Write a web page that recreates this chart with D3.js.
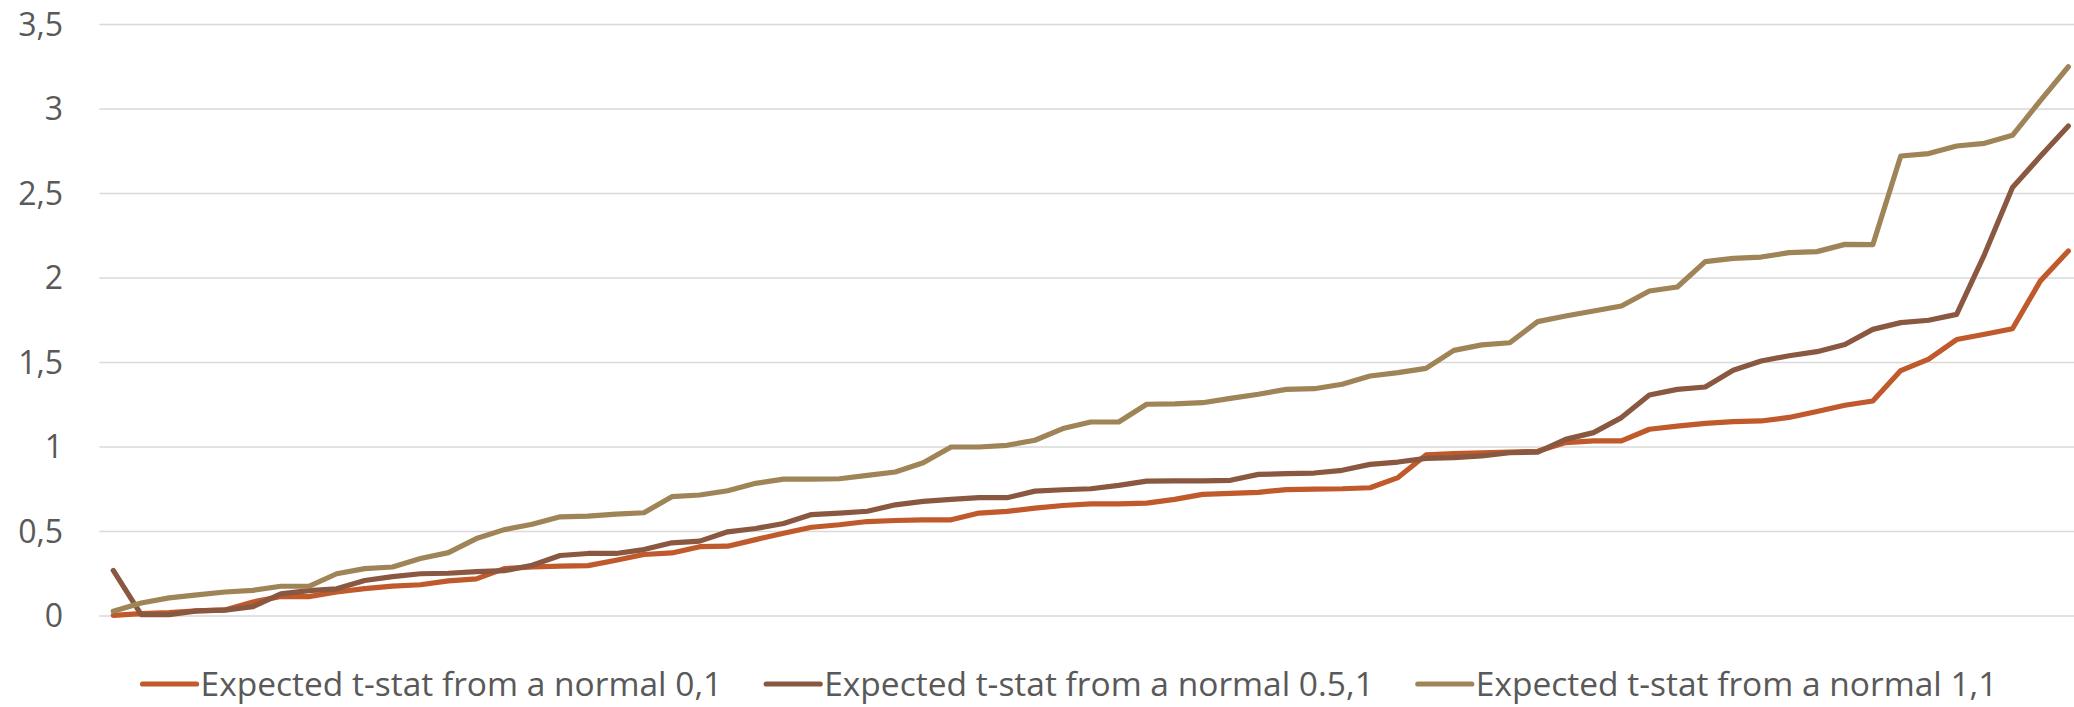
<!DOCTYPE html>
<html>
<head>
<meta charset="utf-8">
<script src="https://cdn.jsdelivr.net/npm/d3@7"></script>
<style>
  html, body { margin: 0; padding: 0; background: #ffffff; }
  svg { display: block; }
  text { font-family: "Open Sans", "Noto Sans", sans-serif; fill: #595959; }
</style>
</head>
<body>
<svg id="chart" width="2074" height="707"></svg>
<script>
// Sorted expected t-statistics, one value per simulated draw (71 draws)
const seriesNames = [
  "Expected t-stat from a normal 0,1",
  "Expected t-stat from a normal 0.5,1",
  "Expected t-stat from a normal 1,1"
];

const normal01 = [
  0.004, 0.014, 0.02, 0.03, 0.036, 0.083, 0.115, 0.115, 0.142, 0.162,
  0.177, 0.185, 0.208, 0.22, 0.28, 0.29, 0.295, 0.298, 0.33, 0.364,
  0.373, 0.41, 0.413, 0.452, 0.49, 0.525, 0.54, 0.559, 0.565, 0.569,
  0.569, 0.609, 0.619, 0.638, 0.654, 0.664, 0.664, 0.668, 0.69, 0.72,
  0.726, 0.732, 0.748, 0.751, 0.753, 0.759, 0.819, 0.953, 0.961, 0.966,
  0.97, 0.975, 1.026, 1.036, 1.036, 1.105, 1.124, 1.14, 1.15, 1.154,
  1.175, 1.21, 1.247, 1.272, 1.452, 1.52, 1.636, 1.667, 1.70, 1.983,
  2.16
];

const normal051 = [
  0.27, 0.008, 0.008, 0.03, 0.035, 0.055, 0.131, 0.15, 0.161, 0.21,
  0.233, 0.25, 0.253, 0.263, 0.268, 0.30, 0.358, 0.37, 0.37, 0.393,
  0.433, 0.443, 0.498, 0.518, 0.547, 0.60, 0.609, 0.62, 0.658, 0.678,
  0.69, 0.70, 0.70, 0.739, 0.747, 0.753, 0.773, 0.798, 0.80, 0.80,
  0.803, 0.838, 0.842, 0.846, 0.862, 0.897, 0.911, 0.933, 0.937, 0.947,
  0.966, 0.97, 1.045, 1.085, 1.174, 1.308, 1.341, 1.355, 1.454, 1.509,
  1.54, 1.564, 1.607, 1.696, 1.736, 1.75, 1.785, 2.14, 2.535, 2.72,
  2.90
];

const normal11 = [
  0.028, 0.077, 0.107, 0.125, 0.142, 0.152, 0.176, 0.176, 0.25, 0.28,
  0.29, 0.34, 0.375, 0.458, 0.511, 0.543, 0.587, 0.591, 0.603, 0.611,
  0.706, 0.716, 0.741, 0.785, 0.81, 0.81, 0.812, 0.832, 0.852, 0.907,
  1.0, 1.0, 1.01, 1.04, 1.109, 1.148, 1.148, 1.253, 1.255, 1.262,
  1.288, 1.312, 1.341, 1.345, 1.371, 1.42, 1.44, 1.465, 1.572, 1.604,
  1.617, 1.742, 1.775, 1.805, 1.834, 1.923, 1.947, 2.097, 2.116, 2.124,
  2.15, 2.156, 2.199, 2.197, 2.722, 2.736, 2.781, 2.797, 2.844, 3.05,
  3.25
];

const yTicks = [0, 0.5, 1, 1.5, 2, 2.5, 3, 3.5];
const colors = ["#C0592B", "#8A5841", "#9F8458"];

const allSeries = [normal01, normal051, normal11];
const draws = d3.range(normal01.length);

const svg = d3.select("#chart");
const W = 2074;

// Category axis: points sit in the middle of equal-width slots
const x = d3.scaleBand()
  .domain(draws)
  .range([99.3, 2082.3])
  .paddingInner(0)
  .paddingOuter(0);
const xc = i => x(i) + x.bandwidth() / 2;

const y = d3.scaleLinear().domain([0, 3.5]).range([616, 24.5]);

// Horizontal gridlines
svg.append("g")
  .selectAll("line")
  .data(yTicks)
  .join("line")
  .attr("x1", 99.3)
  .attr("x2", W)
  .attr("y1", d => y(d))
  .attr("y2", d => y(d))
  .attr("stroke", "#D9D9D9")
  .attr("stroke-width", 1.6);

// Y axis labels with a decimal comma
const locale = d3.formatLocale({ decimal: ",", thousands: ".", grouping: [3], currency: ["", ""] });
const fmt = locale.format(".1~f");
const yAxis = d3.axisLeft(y).tickValues(yTicks).tickFormat(fmt).tickSize(0).tickPadding(0);
const yg = svg.append("g").attr("transform", "translate(63,0)").call(yAxis);
yg.select(".domain").remove();
yg.selectAll("text")
  .attr("font-family", "'Open Sans', 'Noto Sans', sans-serif")
  .attr("font-size", 32)
  .attr("fill", "#595959")
  .attr("dy", "0.34em");

// Lines
const line = d3.line()
  .x((d, i) => xc(i))
  .y(d => y(d));

svg.append("g")
  .selectAll("path")
  .data(allSeries)
  .join("path")
  .attr("d", d => line(d))
  .attr("fill", "none")
  .attr("stroke", (d, k) => colors[k])
  .attr("stroke-width", 5.2)
  .attr("stroke-linejoin", "round")
  .attr("stroke-linecap", "round");

// Legend
const legendY = 684;
const markerLen = 54;
const markerGap = 4;
const itemGap = 44;
const legend = svg.append("g");
const items = legend.selectAll("g")
  .data(seriesNames)
  .join("g");
items.append("line")
  .attr("x1", 0).attr("x2", markerLen)
  .attr("y1", 0).attr("y2", 0)
  .attr("stroke", (d, k) => colors[k])
  .attr("stroke-width", 5.2)
  .attr("stroke-linecap", "round");
items.append("text")
  .attr("x", markerLen + markerGap)
  .attr("y", 0)
  .attr("dy", "0.35em")
  .attr("font-size", 33.5)
  .attr("fill", "#595959")
  .text(d => d);

const widths = [];
items.each(function () {
  const w = markerLen + markerGap + d3.select(this).select("text").node().getComputedTextLength();
  widths.push(w);
});
const total = d3.sum(widths) + itemGap * (widths.length - 1);
const start = 1070 - total / 2;
items.attr("transform", (d, k) => {
  const tx = start + d3.sum(widths.slice(0, k)) + itemGap * k;
  return `translate(${tx},${legendY})`;
});
</script>
</body>
</html>
